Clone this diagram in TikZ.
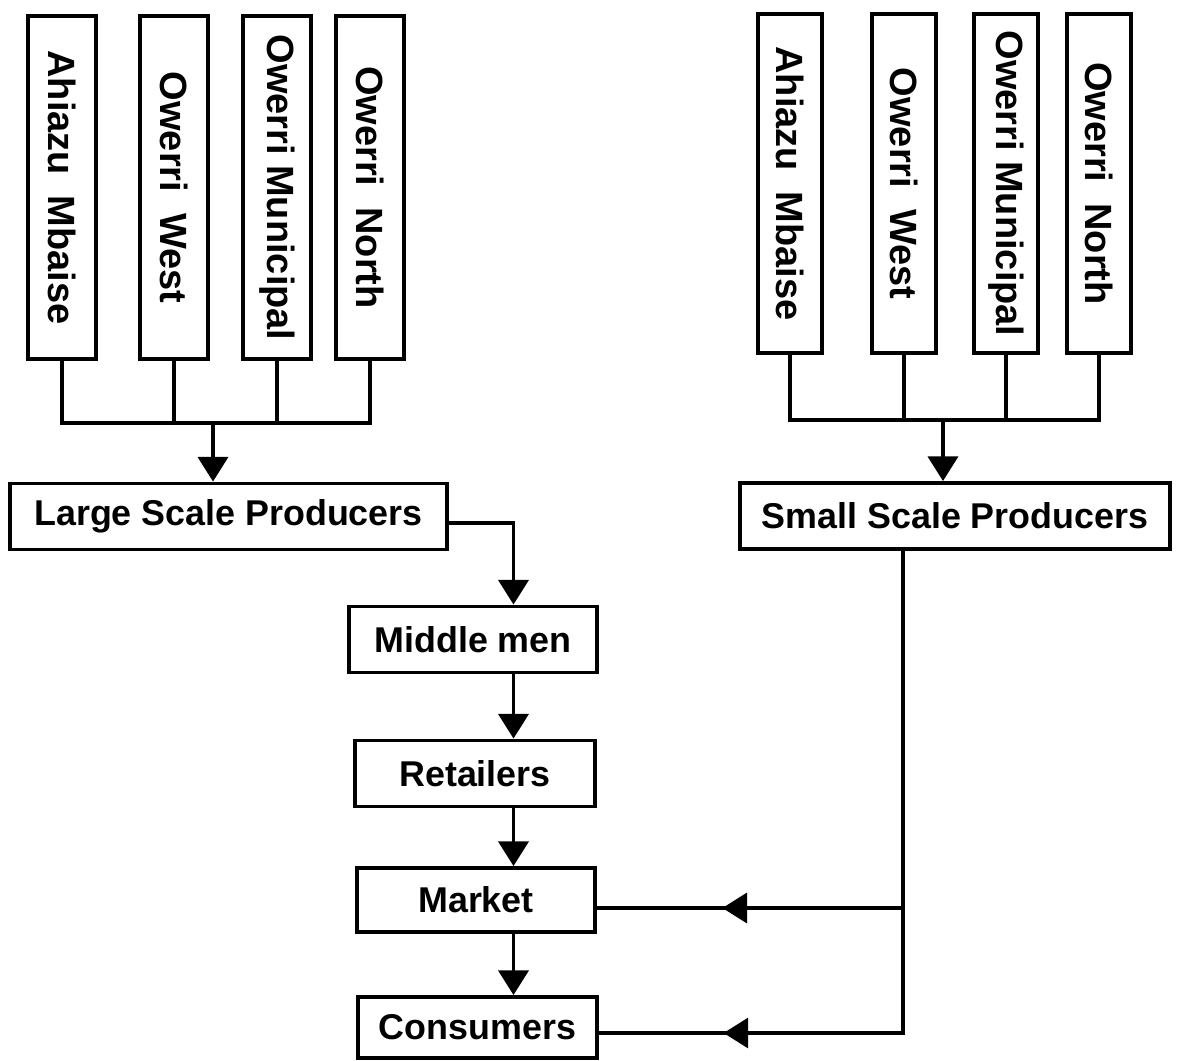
\documentclass[tikz,border=0pt]{standalone}
\usepackage{fontspec}
\setmainfont{Liberation Sans}
\usepackage{graphicx}
\usepackage{tikz}
\usetikzlibrary{arrows.meta}
\usetikzlibrary{decorations.markings}

\begin{document}
\begin{tikzpicture}[->, >={Triangle[width=8.5pt,length=7pt]}, line width=1.1pt] % 1cm = 100px of the scan
  \tikzstyle{lga}=[draw, -, minimum width=0.68cm, minimum height=3.43cm, inner sep=0pt, font=\fontsize{10.8}{13}\selectfont\bfseries]
  \tikzstyle{stage}=[draw, -, minimum height=0.66cm, inner sep=0pt, font=\fontsize{10.2}{12}\selectfont\bfseries]
  \tikzstyle{midarrow}=[-, postaction={decorate}, decoration={markings, mark=at position 0.59 with {\arrow{>}}}]

  \useasboundingbox (0,0) rectangle (11.82,-10.61);

	\node[lga] (L1) at (0.62,-1.875) {\rotatebox{-90}{Ahiazu\ \ Mbaise}};
	\node[lga] (L2) at (1.74,-1.875) {\rotatebox{-90}{Owerri\ \ West}};
	\node[lga] (L3) at (2.77,-1.875) {\rotatebox{-90}{Owerri Municipal}};
	\node[lga] (L4) at (3.70,-1.875) {\rotatebox{-90}{Owerri\ \ North}};

	\node[lga, minimum width=0.64cm, minimum height=3.39cm] (S1) at (7.90,-1.835) {\rotatebox{-90}{Ahiazu\ \ Mbaise}};
	\node[lga, minimum width=0.64cm, minimum height=3.39cm] (S2) at (9.04,-1.835) {\rotatebox{-90}{Owerri\ \ West}};
	\node[lga, minimum width=0.64cm, minimum height=3.39cm] (S3) at (10.06,-1.835) {\rotatebox{-90}{Owerri Municipal}};
	\node[lga, minimum width=0.64cm, minimum height=3.39cm] (S4) at (10.99,-1.835) {\rotatebox{-90}{Owerri\ \ North}};

	\node[stage, minimum width=4.37cm] (LSP) at (2.285,-5.165) {Large Scale Producers};
	\node[stage, minimum width=4.30cm] (SSP) at (9.55,-5.16) {Small Scale Producers};
	\node[stage, minimum width=2.48cm] (MM) at (4.73,-6.395) {Middle men};
	\node[stage, minimum width=2.40cm] (RT) at (4.75,-7.735) {Retailers};
	\node[stage, minimum width=2.38cm, minimum height=0.64cm] (MK) at (4.76,-9.00) {Market};
	\node[stage, minimum width=2.39cm, minimum height=0.61cm] (CN) at (4.775,-10.275) {Consumers};

	\coordinate (jL) at (2.13,-4.23);
	\coordinate (jS) at (9.43,-4.20);
	\coordinate (cL) at (5.135,-5.23);
	\coordinate (mkS) at (9.03,-9.08);
	\coordinate (cnS) at (9.03,-10.33);

	% large scale side
	\draw[-] (L1.south) |- (L4.south |- jL) -- (L4.south);
	\draw[-] (L2.south) -- (L2.south |- jL);
	\draw[-] (L3.south) -- (L3.south |- jL);
	\draw (jL) -- (jL |- LSP.north);

	% small scale side
	\draw[-] (S1.south) |- (S4.south |- jS) -- (S4.south);
	\draw[-] (S2.south) -- (S2.south |- jS);
	\draw[-] (S3.south) -- (S3.south |- jS);
	\draw (jS) -- (jS |- SSP.north);

	\draw (LSP.east |- cL) -- (cL) -- (cL |- MM.north);
	\path
		(MM.south -| cL) edge (RT.north -| cL)
		(RT.south -| cL) edge (MK.north -| cL)
		(MK.south -| cL) edge (CN.north -| cL)
		;

	\draw[-, line cap=rect] (SSP.south -| mkS) -- (cnS);
	\path
		(mkS) edge[midarrow] (MK.east |- mkS)
		(cnS) edge[midarrow] (CN.east |- cnS)
		;

\end{tikzpicture}
\end{document}
